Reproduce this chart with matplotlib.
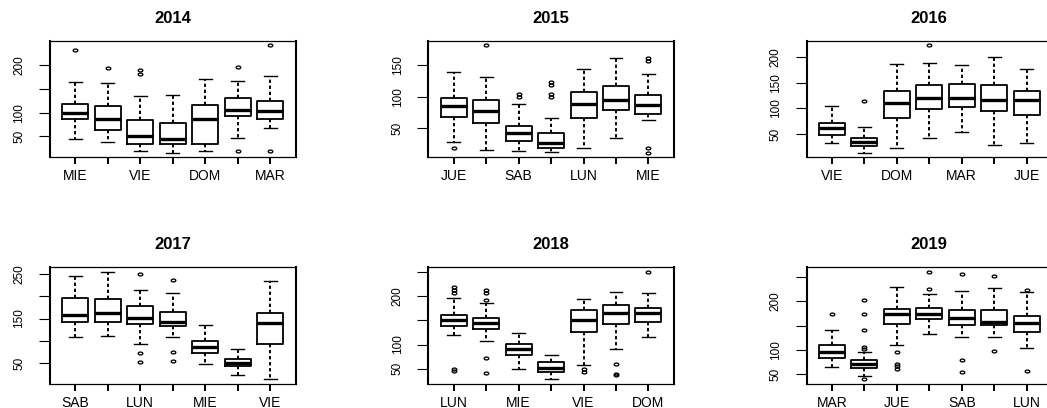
import matplotlib
matplotlib.use("Agg")
import matplotlib.pyplot as plt
from matplotlib.path import Path
from matplotlib.transforms import Affine2D

plt.rcParams['font.family'] = ['Liberation Sans', 'DejaVu Sans']

# --- datos: cajas por dia de la semana, una por anio ---
years = [2014, 2015, 2016, 2017, 2018, 2019]

days_2014 = ['MIE', 'JUE', 'VIE', 'SAB', 'DOM', 'LUN', 'MAR']
lo_2014 = [44, 39, 19, 16, 19, 46, 68]
q1_2014 = [86, 64, 35, 34, 35, 92, 86]
med_2014 = [99, 86, 50, 45, 87, 106, 104]
q3_2014 = [118, 115, 85, 78, 116, 130, 125]
hi_2014 = [164, 162, 134, 137, 171, 167, 178]
out_2014 = [[232], [194], [190, 182], [], [], [195, 20], [242, 20]]
yt_2014 = [50, 100, 150, 200]
yl_2014 = ['50', '100', '', '200']

days_2015 = ['JUE', 'VIE', 'SAB', 'DOM', 'LUN', 'MAR', 'MIE']
lo_2015 = [29, 16, 14, 13, 20, 35, 63]
q1_2015 = [68, 58, 31, 20, 67, 79, 73]
med_2015 = [85, 78, 43, 27, 88, 94, 87]
q3_2015 = [98, 94, 54, 43, 108, 116, 103]
hi_2015 = [138, 131, 89, 67, 144, 161, 135]
out_2015 = [[19], [181], [104, 100], [123, 119, 104, 100], [], [], [160, 156, 19, 12]]
yt_2015 = [50, 100, 150]
yl_2015 = ['50', '100', '150']

days_2016 = ['VIE', 'SAB', 'DOM', 'LUN', 'MAR', 'MIE', 'JUE']
lo_2016 = [32, 14, 23, 42, 55, 29, 32]
q1_2016 = [49, 27, 82, 99, 102, 95, 88]
med_2016 = [62, 34, 110, 121, 120, 117, 117]
q3_2016 = [71, 43, 134, 145, 148, 146, 133]
hi_2016 = [104, 63, 186, 188, 184, 199, 176]
out_2016 = [[], [115], [], [223], [], [], []]
yt_2016 = [50, 100, 150, 200]
yl_2016 = ['50', '100', '150', '200']

days_2017 = ['SAB', 'DOM', 'LUN', 'MAR', 'MIE', 'JUE', 'VIE']
lo_2017 = [108, 112, 92, 108, 49, 23, 14]
q1_2017 = [142, 143, 137, 133, 72, 43, 93]
med_2017 = [157, 163, 152, 143, 86, 51, 139]
q3_2017 = [196, 194, 178, 165, 99, 60, 163]
hi_2017 = [246, 255, 214, 208, 136, 82, 234]
out_2017 = [[], [], [250, 72, 52], [237, 75, 55], [], [], []]
yt_2017 = [50, 100, 150, 200, 250]
yl_2017 = ['50', '', '150', '', '250']

days_2018 = ['LUN', 'MAR', 'MIE', 'JUE', 'VIE', 'SAB', 'DOM']
lo_2018 = [119, 107, 50, 28, 57, 91, 115]
q1_2018 = [139, 133, 79, 44, 126, 142, 146]
med_2018 = [151, 144, 90, 52, 151, 166, 165]
q3_2018 = [162, 155, 101, 64, 172, 181, 175]
hi_2018 = [197, 186, 124, 79, 195, 208, 206]
out_2018 = [[219, 212, 206, 50, 46], [212, 206, 193, 72, 40], [], [],
            [50, 44], [60, 39, 37], [251]]
yt_2018 = [50, 100, 150, 200, 250]
yl_2018 = ['50', '100', '', '200', '']

days_2019 = ['MAR', 'MIE', 'JUE', 'VIE', 'SAB', 'DOM', 'LUN']
lo_2019 = [66, 47, 111, 132, 127, 127, 104]
q1_2019 = [83, 64, 153, 164, 151, 151, 137]
med_2019 = [96, 71, 173, 173, 166, 158, 156]
q3_2019 = [111, 80, 184, 187, 183, 182, 169]
hi_2019 = [142, 95, 229, 216, 221, 227, 219]
out_2019 = [[173], [203, 173, 142, 107, 103, 40], [97, 71, 68, 61], [261, 225],
            [256, 80, 54], [253, 99], [223, 58]]
yt_2019 = [50, 100, 150, 200, 250]
yl_2019 = ['50', '100', '', '200', '']

panels = [
    (days_2014, lo_2014, q1_2014, med_2014, q3_2014, hi_2014, out_2014, yt_2014, yl_2014),
    (days_2015, lo_2015, q1_2015, med_2015, q3_2015, hi_2015, out_2015, yt_2015, yl_2015),
    (days_2016, lo_2016, q1_2016, med_2016, q3_2016, hi_2016, out_2016, yt_2016, yl_2016),
    (days_2017, lo_2017, q1_2017, med_2017, q3_2017, hi_2017, out_2017, yt_2017, yl_2017),
    (days_2018, lo_2018, q1_2018, med_2018, q3_2018, hi_2018, out_2018, yt_2018, yl_2018),
    (days_2019, lo_2019, q1_2019, med_2019, q3_2019, hi_2019, out_2019, yt_2019, yl_2019),
]


def make_stats(lo, q1, med, q3, hi, out):
    return [dict(whislo=a, q1=b, med=c, q3=d, whishi=e, fliers=f)
            for a, b, c, d, e, f in zip(lo, q1, med, q3, hi, out)]


# circulito algo achatado, como en la imagen original
ring = Path.unit_circle().transformed(Affine2D().scale(1.6, 1.0))

W, H = 1047, 408
fig = plt.figure(figsize=(W / 100, H / 100), dpi=100)

# posiciones de los paneles en pixeles (la figura original esta recortada)
lefts = [50, 428.3, 806.5]
tops = [40.7, 267.3]
aw, ah = 245.5, 116.3

for k, (year, p) in enumerate(zip(years, panels)):
    days, lo, q1, med, q3, hi, out, yt, yl = p
    row, col = divmod(k, 3)
    ax = fig.add_axes([lefts[col] / W, 1 - (tops[row] + ah) / H, aw / W, ah / H])

    ax.bxp(make_stats(lo, q1, med, q3, hi, out), positions=range(1, 8),
           widths=0.8, capwidths=0.4, manage_ticks=False,
           boxprops=dict(color='black', linewidth=1.3),
           medianprops=dict(color='black', linewidth=2.4, solid_capstyle='butt'),
           whiskerprops=dict(color='black', linewidth=1.4, linestyle=(0, (1.7, 1.4))),
           capprops=dict(color='black', linewidth=1.0),
           flierprops=dict(marker=ring, markersize=3.3, markerfacecolor='none',
                           markeredgecolor='black', markeredgewidth=0.95, linestyle='none'))

    ax.set_xlim(0.22, 7.78)
    ax.margins(y=0.04)
    ax.autoscale(axis='y')

    ax.set_xticks(range(1, 8))
    ax.set_xticklabels([d if i % 2 == 0 else '' for i, d in enumerate(days)])
    ax.set_yticks(yt)
    ax.set_yticklabels(yl, rotation=90, va='center')

    ax.tick_params(axis='x', length=4.8, width=1.4, pad=4, labelsize=10)
    ax.tick_params(axis='y', length=7.7, width=0.8, pad=10, labelsize=8.5)
    for side in ['left', 'right']:
        ax.spines[side].set_linewidth(1.5)
    for side in ['top', 'bottom']:
        ax.spines[side].set_linewidth(0.9)

    ax.set_title(str(year), fontsize=12, fontweight='bold', pad=13)

fig.savefig('out.png', dpi=100)
